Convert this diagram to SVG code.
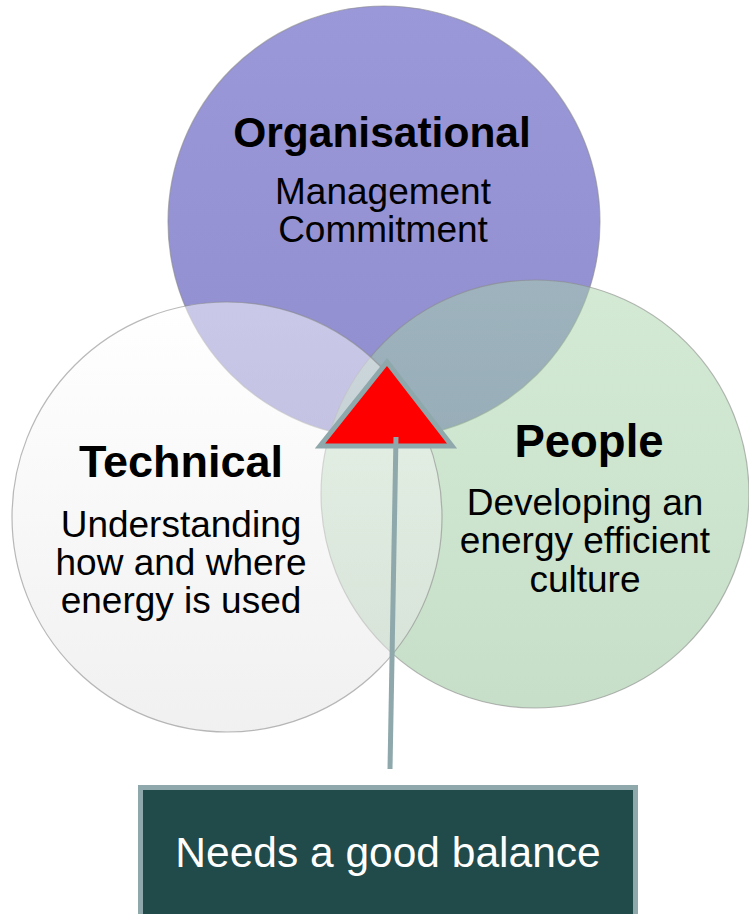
<svg xmlns="http://www.w3.org/2000/svg" width="749" height="914" viewBox="0 0 749 914">
<defs>
<linearGradient id="gP" x1="0" y1="0" x2="0" y2="1">
<stop offset="0" stop-color="#9a98d8"/><stop offset="1" stop-color="#908ecf"/>
</linearGradient>
<linearGradient id="gW" x1="0" y1="0" x2="0" y2="1">
<stop offset="0" stop-color="#ffffff"/><stop offset="1" stop-color="#e2e2e2"/>
</linearGradient>
<linearGradient id="gG" x1="0" y1="0" x2="0" y2="1">
<stop offset="0" stop-color="#a8d4a8"/><stop offset="1" stop-color="#8fbf93"/>
</linearGradient>
</defs>
<style>
.h{font-family:"Liberation Sans",Arial,sans-serif;font-weight:bold;fill:#000;text-anchor:middle}
.b{font-family:"Liberation Sans",Arial,sans-serif;font-size:37px;fill:#000;text-anchor:middle}
.edge{stroke:#8a8a8a;stroke-opacity:0.6;stroke-width:1.2}
</style>
<g id="organisational">
<circle cx="384" cy="222" r="216" fill="url(#gP)" class="edge"/>
</g>
<g id="people">
<circle cx="535" cy="494" r="214" fill="url(#gG)" fill-opacity="0.5" class="edge"/>
</g>
<g id="technical">
<circle cx="227" cy="517" r="215" fill="url(#gW)" fill-opacity="0.5" class="edge"/>
</g>
<g id="labels">
<text class="h" x="382" y="147" font-size="42.5">Organisational</text>
<text class="b" x="383" y="204">Management</text>
<text class="b" x="383" y="242">Commitment</text>
<text class="h" x="181" y="477" font-size="45">Technical</text>
<text class="b" x="181" y="537">Understanding</text>
<text class="b" x="181" y="575">how and where</text>
<text class="b" x="181" y="613">energy is used</text>
<text class="h" x="589" y="457" font-size="45.5">People</text>
<text class="b" x="585" y="515">Developing an</text>
<text class="b" x="585" y="553">energy efficient</text>
<text class="b" x="585" y="592">culture</text>
</g>
<g id="connectors">
<polygon id="balance-triangle" points="387,362 320,446 452,446" fill="#ff0000" stroke="#8ea8ab" stroke-width="5" stroke-linejoin="miter"/>
<line x1="396" y1="437" x2="390" y2="769" stroke="#8ea8ab" stroke-width="5"/>
</g>
<g id="balance-box">
<rect x="140.5" y="787.5" width="495" height="140" fill="#214a4b" stroke="#8ea8ab" stroke-width="5"/>
<text x="388" y="867" font-family="'Liberation Sans',Arial,sans-serif" font-size="42.5" fill="#ffffff" text-anchor="middle">Needs a good balance</text>
</g>
</svg>
